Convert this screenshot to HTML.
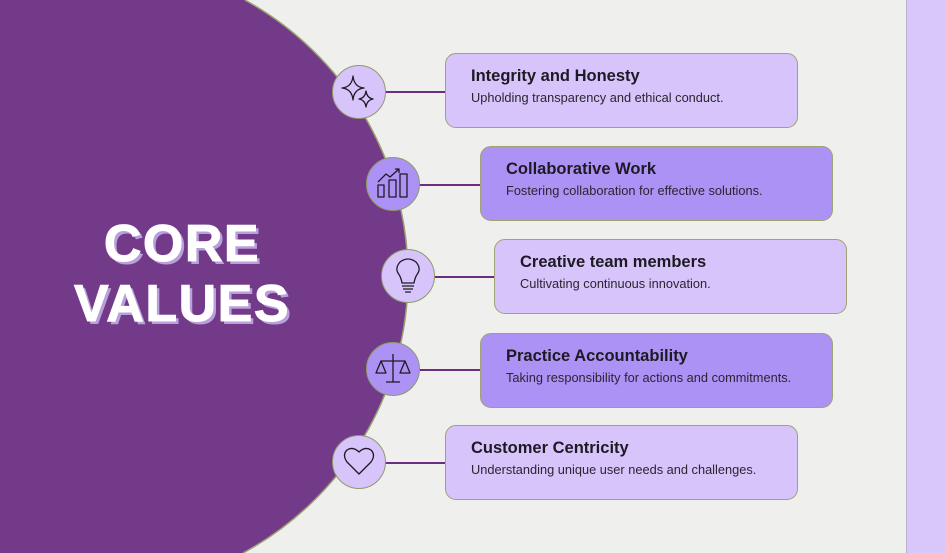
<!DOCTYPE html>
<html><head><meta charset="utf-8"><style>
html,body{margin:0;width:945px;height:553px;overflow:hidden}
#wrap{position:relative;width:945px;height:553px;overflow:hidden;background:#efefee;font-family:"Liberation Sans",sans-serif}
.strip{position:absolute;left:906px;top:0;width:39px;height:553px;background:#d9c7fb;border-left:1px solid #b9b0c8;box-sizing:border-box}
.title{position:absolute;color:#fff;font-weight:900;font-size:52px;letter-spacing:1.5px;text-shadow:3px 3px 0 #b9a0dc;text-align:center;width:300px;left:32px;-webkit-text-stroke:1px #fff}
.card{position:absolute;width:353px;height:75px;border-radius:11px;border:1px solid #9fa274;box-sizing:border-box}
.card h3{margin:0;position:absolute;left:25px;top:13px;font-size:16.5px;color:#1e1a24;font-weight:bold;white-space:nowrap}
.card p{margin:0;position:absolute;left:25px;top:36px;font-size:12.8px;color:#2a2530;white-space:nowrap}
.light{background:#d7c4fb}.dark{background:#ac92f5}
.ic{position:absolute;width:54px;height:54px;border-radius:50%;border:1.5px solid #8f9a6a;box-sizing:border-box}
.ln{position:absolute;height:1.5px;background:#6a2d80}
svg{position:absolute;left:0;top:0}
</style></head><body><div id="wrap">
<svg width="945" height="553">
<path d="M0 0 H244.8 A315 315 0 0 1 243 553 H0 Z" fill="#723a88"/>
<path d="M244.8 0 A315 315 0 0 1 243 553" fill="none" stroke="#9aa070" stroke-width="1.5"/>
</svg>
<div class="strip"></div>
<div class="title" style="top:214px">CORE</div>
<div class="title" style="top:274px">VALUES</div>

<div class="ln" style="left:385px;top:91px;width:62px"></div>
<div class="ln" style="left:419px;top:184px;width:62px"></div>
<div class="ln" style="left:434px;top:276px;width:62px"></div>
<div class="ln" style="left:419px;top:369px;width:62px"></div>
<div class="ln" style="left:385px;top:462px;width:62px"></div>

<div class="card light" style="left:445px;top:53px"><h3>Integrity and Honesty</h3><p>Upholding transparency and ethical conduct.</p></div>
<div class="card dark" style="left:480px;top:146px"><h3>Collaborative Work</h3><p>Fostering collaboration for effective solutions.</p></div>
<div class="card light" style="left:494px;top:239px"><h3>Creative team members</h3><p>Cultivating continuous innovation.</p></div>
<div class="card dark" style="left:480px;top:333px"><h3>Practice Accountability</h3><p>Taking responsibility for actions and commitments.</p></div>
<div class="card light" style="left:445px;top:425px"><h3>Customer Centricity</h3><p>Understanding unique user needs and challenges.</p></div>

<div class="ic light" style="left:332px;top:65px"></div>
<div class="ic dark" style="left:366px;top:157px"></div>
<div class="ic light" style="left:381px;top:249px"></div>
<div class="ic dark" style="left:366px;top:342px"></div>
<div class="ic light" style="left:332px;top:435px"></div>

<svg width="945" height="553" fill="none" stroke="#1e1a24" stroke-width="1.3" stroke-linejoin="round">
<path d="M353 76 Q354 87 364 88 Q354 89 353 100 Q352 89 342 88 Q352 87 353 76Z"/>
<path d="M366 91 Q367 98 373 99 Q367 100 366 107 Q365 100 359 99 Q365 98 366 91Z"/>
<rect x="378" y="185" width="6" height="12"/><rect x="389" y="180" width="7" height="17"/><rect x="400" y="174" width="7" height="23"/>
<path d="M378 182 L386 174 L390 177 L399 169 M395 169 L399 169 L399 173"/>
<path d="M402 283 Q401 277 398 273 Q395 268 400 262 Q408 256 416 262 Q421 268 418 273 Q415 277 414 283 Z M402 286 H414 M403 289 H413 M405 292 H411"/>
<path d="M393 356 V382 M386 382 H400 M381 361 H405 M381 361 L376 373 H386 Z M405 361 L400 373 H410 Z M393 356 V354"/>
<path d="M359 474 L347 462 Q342 455 347 450 Q353 446 359 452 Q365 446 371 450 Q376 455 371 462 Z"/>
</svg>
</div></body></html>
